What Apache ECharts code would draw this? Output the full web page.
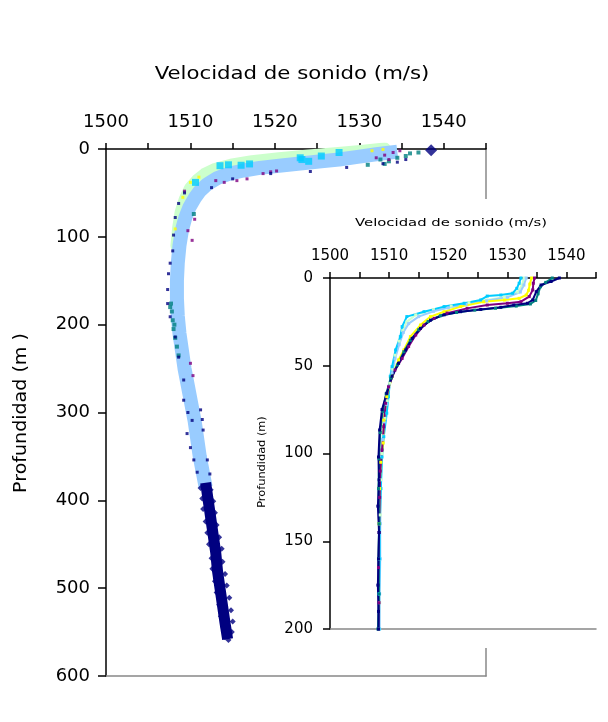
<!DOCTYPE html>
<html>
<head>
<meta charset="utf-8">
<script src="https://cdn.jsdelivr.net/npm/echarts@6/dist/echarts.min.js"></script>
<style>
html,body{margin:0;padding:0;background:#fff;}
#chart{width:608px;height:722px;}
</style>
</head>
<body>
<div id="chart"></div>
<script>
// ---------- Texts ----------
const xTitle = 'Velocidad de sonido (m/s)';
const yTitleMain = 'Profundidad (m )';
const yTitleInset = 'Profundidad (m)';

// ---------- Main chart data: [velocity m/s, depth m] ----------
const mainGreenBand = [[1533,0],[1530.5,2.5],[1527.5,5],[1524,8],[1520.5,11],[1517.3,14.5],[1514.8,18.5],[1513,23],[1511.7,29],[1510.8,36],[1510,45],[1509.4,57],[1508.9,72],[1508.6,90],[1508.4,110]];
const mainBlueBand = [[1534.5,3],[1532,6],[1529.8,9],[1527.6,12],[1525.5,14],[1523,16.5],[1520.5,19],[1518.2,21.5],[1516.3,24.5],[1514.6,28],[1513.2,33],[1512,40],[1511.1,48],[1510.5,56],[1509.9,66],[1509.4,78],[1509,92],[1508.7,110],[1508.5,130],[1508.4,150],[1508.4,170],[1508.5,190],[1508.7,210],[1509,230],[1509.3,250],[1509.7,270],[1510.1,290],[1510.5,310],[1510.8,330],[1511.1,350],[1511.5,370],[1511.8,385]];
const mainNavyDeep = [[1511.8,380],[1512.1,400],[1512.4,420],[1512.7,440],[1513.0,460],[1513.2,480],[1513.5,500],[1513.8,520],[1514.1,540],[1514.4,558]];
const mainNavyDeepEdge = [[1511.2,386],[1511.4,398],[1511.5,410],[1511.8,424],[1512.0,437],[1512.2,450],[1512.5,466],[1512.6,478],[1512.9,492],[1513.1,505],[1513.4,519],[1513.6,532],[1513.9,545],[1514.1,556],[1512.4,388],[1512.7,401],[1512.9,414],[1513.1,428],[1513.4,442],[1513.7,455],[1513.8,470],[1514.1,484],[1514.3,497],[1514.6,511],[1514.8,525],[1515.0,538],[1514.9,550],[1514.5,559]];
const mainNavySurface = [[1538.5,1.5]];
const mainNavyDots = [[1535.5,12],[1534.5,15],[1532.8,16.7],[1528.5,21],[1524.2,25.6],[1519.5,28],[1515,34],[1512.5,44],[1509.3,50],[1508.6,62],[1508.2,78],[1508,98],[1507.9,116],[1507.6,130],[1507.4,142],[1507.3,160],[1507.3,176],[1507.6,191],[1508.2,214],[1508.6,237],[1509.2,263],[1509.2,286],[1509.7,300],[1510.2,309],[1509.6,324],[1510.0,340],[1510.4,354],[1510.8,368],[1511.2,297],[1511.5,320],[1512.0,354],[1511.4,308],[1512.3,370]];
const mainCyanDots = [[1513.5,19],[1514.5,18],[1510.6,38],[1523.2,12],[1524,14],[1523,10],[1527.6,4],[1525.5,8],[1517,17],[1516,18.5]];
const mainPurpleDots = [[1513,36],[1514,38],[1515.5,36],[1516.7,34],[1518.6,28],[1519.5,26],[1520.2,25],[1532,10],[1533,7],[1534,4],[1534.8,2],[1533.5,12],[1509.7,93],[1510.2,104],[1510,244],[1510.3,258],[1509.3,48],[1510.5,80]];
const mainTealDots = [[1532.5,12],[1533.5,14],[1534.5,10],[1535.5,8],[1536,5],[1537,4],[1533,17],[1531,18],[1507.7,176],[1507.8,185],[1507.9,195],[1508,205],[1508.2,215],[1508.4,225],[1508.6,235],[1510.4,74],[1507.6,180],[1508.1,200]];
const mainYellowDots = [[1510,38],[1532.8,0.5],[1509.1,55],[1508.2,91],[1531.5,2],[1511,32]];

// ---------- Inset data: [velocity m/s, depth m] ----------
const insetNavy = [[1538.8,0],[1537.4,2],[1535.7,4],[1534.9,7.8],[1534.3,12.5],[1533.4,14.4],[1531.1,15.4],[1528.9,16.7],[1525.5,17.9],[1522.1,19.2],[1519.3,21],[1517,24],[1515.3,28.7],[1513.9,34.4],[1512.8,41],[1511.6,48.6],[1510.5,56],[1509.6,65.7],[1508.8,75],[1508.4,86.6],[1508.2,102],[1508.3,115],[1508.1,130],[1508.3,145],[1508.2,160],[1508.1,175],[1508.2,190],[1508.2,200]];
const insetTeal = [[1537.6,0],[1536.5,2.5],[1535.6,5],[1535.2,9],[1534.8,12.8],[1533.9,14.8],[1531.5,16],[1528,17.2],[1524.5,18.3],[1521.4,19.6],[1518.7,21.5],[1516.6,24.8],[1515,29.5],[1513.6,35.5],[1512.5,42],[1511.4,49.5],[1510.3,57],[1509.5,66],[1508.9,76],[1508.5,88],[1508.3,103],[1508.2,120],[1508.3,140],[1508.2,160],[1508.3,180],[1508.1,200]];
const insetPurple = [[1534.6,0],[1534.4,3],[1534.3,6.8],[1533.7,10.6],[1532.3,13.5],[1530,14.4],[1526.6,15.4],[1523.2,17.3],[1519.8,20],[1517.6,23],[1515.9,26.8],[1514.5,32.5],[1513.3,39],[1512.2,45.8],[1511,52.4],[1509.9,62],[1509.4,71.4],[1509.1,84.7],[1508.8,98],[1508.5,110],[1508.4,125],[1508.3,145],[1508.2,165],[1508.3,185],[1508.2,200]];
const insetYellow = [[1534.1,0],[1533.8,3.5],[1533.6,7],[1533.2,9.7],[1532,11.6],[1529.5,12.6],[1526,13.6],[1522.1,16.3],[1519.3,19.2],[1517,22],[1515.3,26.8],[1513.6,33.4],[1512.5,41],[1511.6,46.7],[1510.5,56],[1509.6,67.6],[1509.1,81],[1509,94],[1508.6,105],[1508.4,120],[1508.3,140]];
const insetCyan = [[1532.3,0],[1532,3],[1531.6,5.9],[1530.9,8.7],[1528.9,9.7],[1526.6,10.3],[1525.5,12.5],[1522.7,14.4],[1519.3,16.3],[1515.9,19.2],[1513,22],[1512.2,27.7],[1511.9,33.4],[1511.1,41],[1510.5,50.5],[1510.2,56],[1509.9,67.6],[1509.6,77],[1509.1,90.4],[1508.8,102],[1508.6,120],[1508.4,140],[1508.4,160],[1508.3,180],[1508.3,200]];
const insetGreen = [[1532.8,0],[1532.5,4],[1531.8,8],[1529.5,11],[1526.5,12.5],[1523.5,14],[1520.5,16],[1517.5,18],[1514.5,21],[1513,25],[1512.3,30],[1511.7,36],[1511,44],[1510.6,52],[1510.1,60],[1509.7,70],[1509.3,80],[1509,90],[1508.8,100],[1508.6,115],[1508.5,135],[1508.4,160],[1508.4,185],[1508.3,200]];
const insetLightBlue = [[1533.2,0],[1532.8,4],[1532.2,8],[1530,11],[1526.5,13],[1523,15],[1520,17],[1517.5,19],[1515,22],[1513.3,26],[1512.4,31],[1511.7,38],[1511,46],[1510.5,54],[1510,62],[1509.6,72],[1509.2,82],[1508.9,92],[1508.7,102],[1508.6,120],[1508.5,140],[1508.5,160],[1508.4,180],[1508.4,200]];

// ---------- Colours ----------
const C = {navy:'#000080', purple:'#800080', teal:'#008080', yellow:'#FFFF00', cyan:'#00CCFF', green:'#CCFFCC', lblue:'#99CCFF'};
const FONT = 'DejaVu Sans';

const chart = echarts.init(document.getElementById('chart'), null, {renderer:'canvas'});

function xLabelFmt(v){ return (Math.round(v) % 10 === 0) ? String(Math.round(v)) : ''; }

function topX(gridIndex, fs, margin, z){
  return {type:'value', gridIndex, position:'top', min:1500, max:1545, interval:5, z,
    axisLine:{show:true, onZero:false, lineStyle:{color:'#000', width:1.5}},
    axisTick:{show:true, inside:false, length:6, lineStyle:{color:'#000', width:1.5}},
    axisLabel:{show:true, formatter:xLabelFmt, fontFamily:FONT, fontSize:fs, color:'#000', margin},
    splitLine:{show:false}};
}
function bottomX(gridIndex, z){
  return {type:'value', gridIndex, position:'bottom', min:1500, max:1545, interval:5, z,
    axisLine:{show:true, onZero:false, lineStyle:{color:'#888', width:1.5}},
    axisTick:{show:false}, axisLabel:{show:false}, splitLine:{show:false}};
}

const mainSeries = [
  {type:'line', xAxisIndex:0, yAxisIndex:0, data:mainGreenBand, symbol:'none', z:2,
    lineStyle:{color:C.green, width:13, cap:'round', join:'round'}},
  {type:'line', xAxisIndex:0, yAxisIndex:0, data:mainBlueBand, symbol:'none', z:3,
    lineStyle:{color:C.lblue, width:14, cap:'butt', join:'round'}},
  {type:'scatter', xAxisIndex:0, yAxisIndex:0, data:mainCyanDots, symbol:'rect', symbolSize:7, z:4,
    itemStyle:{color:C.cyan}},
  {type:'line', xAxisIndex:0, yAxisIndex:0, data:mainNavyDeep, symbol:'none', z:4,
    lineStyle:{color:C.navy, width:11, cap:'butt', join:'round'}},
  {type:'scatter', xAxisIndex:0, yAxisIndex:0, data:mainNavyDeepEdge, symbol:'diamond', symbolSize:6, z:4,
    itemStyle:{color:C.navy}},
  {type:'scatter', xAxisIndex:0, yAxisIndex:0, data:mainTealDots, symbol:'rect', symbolSize:4, z:5,
    itemStyle:{color:C.teal}},
  {type:'scatter', xAxisIndex:0, yAxisIndex:0, data:mainPurpleDots, symbol:'rect', symbolSize:3, z:5,
    itemStyle:{color:C.purple}},
  {type:'scatter', xAxisIndex:0, yAxisIndex:0, data:mainYellowDots, symbol:'rect', symbolSize:3, z:5,
    itemStyle:{color:C.yellow}},
  {type:'scatter', xAxisIndex:0, yAxisIndex:0, data:mainNavyDots, symbol:'rect', symbolSize:3, z:6,
    itemStyle:{color:C.navy}},
  {type:'scatter', xAxisIndex:0, yAxisIndex:0, data:mainNavySurface, symbol:'diamond', symbolSize:[12,12], z:6,
    itemStyle:{color:C.navy}}
];

function insetLine(data, color){
  return {type:'line', xAxisIndex:2, yAxisIndex:2, data, z:12,
    symbol:'rect', symbolSize:3, showSymbol:true,
    itemStyle:{color}, lineStyle:{color, width:2}};
}
const insetSeries = [
  insetLine(insetGreen, C.green),
  insetLine(insetLightBlue, C.lblue),
  insetLine(insetCyan, C.cyan),
  insetLine(insetYellow, C.yellow),
  insetLine(insetPurple, C.purple),
  insetLine(insetTeal, C.teal),
  insetLine(insetNavy, C.navy)
];

const option = {
  animation:false,
  backgroundColor:'#fff',
  grid:[
    {left:106, top:149, width:380, height:527, containLabel:false},
    {left:330, top:278, width:266, height:351, containLabel:false}
  ],
  xAxis:[ topX(0, 18, 18, 1), bottomX(0, 1), topX(1, 15, 14, 11), bottomX(1, 11) ],
  yAxis:[
    {type:'value', gridIndex:0, position:'left', inverse:true, min:0, max:600, interval:100, z:1,
      axisLine:{show:true, onZero:false, lineStyle:{color:'#000', width:1.5}},
      axisTick:{show:true, length:8, lineStyle:{color:'#000', width:1.5}},
      axisLabel:{fontFamily:FONT, fontSize:18, color:'#000', margin:16},
      splitLine:{show:false}},
    {type:'value', gridIndex:0, position:'right', inverse:true, min:0, max:600, interval:100, z:1,
      axisLine:{show:true, onZero:false, lineStyle:{color:'#888', width:1.5}},
      axisTick:{show:false}, axisLabel:{show:false}, splitLine:{show:false}},
    {type:'value', gridIndex:1, position:'left', inverse:true, min:0, max:200, interval:50, z:11,
      axisLine:{show:true, onZero:false, lineStyle:{color:'#000', width:1.5}},
      axisTick:{show:true, length:7, lineStyle:{color:'#000', width:1.5}},
      axisLabel:{fontFamily:FONT, fontSize:15, color:'#000', margin:17},
      splitLine:{show:false}}
  ],
  graphic:{elements:[
    {type:'rect', z:10, shape:{x:245, y:199, width:363, height:449}, style:{fill:'#fff'}},
    {type:'text', z:15, x:292, y:75, scaleX:1.25,
      style:{text:xTitle, fontFamily:FONT, fontSize:17, fill:'#000', textAlign:'center', textVerticalAlign:'middle'}},
    {type:'text', z:15, x:22, y:413, rotation:Math.PI/2, scaleX:1.12,
      style:{text:yTitleMain, fontFamily:FONT, fontSize:17, fill:'#000', textAlign:'center', textVerticalAlign:'middle'}},
    {type:'text', z:15, x:451, y:223, scaleX:1.35,
      style:{text:xTitle, fontFamily:FONT, fontSize:11, fill:'#000', textAlign:'center', textVerticalAlign:'middle'}},
    {type:'text', z:15, x:262, y:462, rotation:Math.PI/2, scaleX:1.08,
      style:{text:yTitleInset, fontFamily:FONT, fontSize:10.5, fill:'#000', textAlign:'center', textVerticalAlign:'middle'}}
  ]},
  series: mainSeries.concat(insetSeries)
};
chart.setOption(option);
</script>
</body>
</html>
